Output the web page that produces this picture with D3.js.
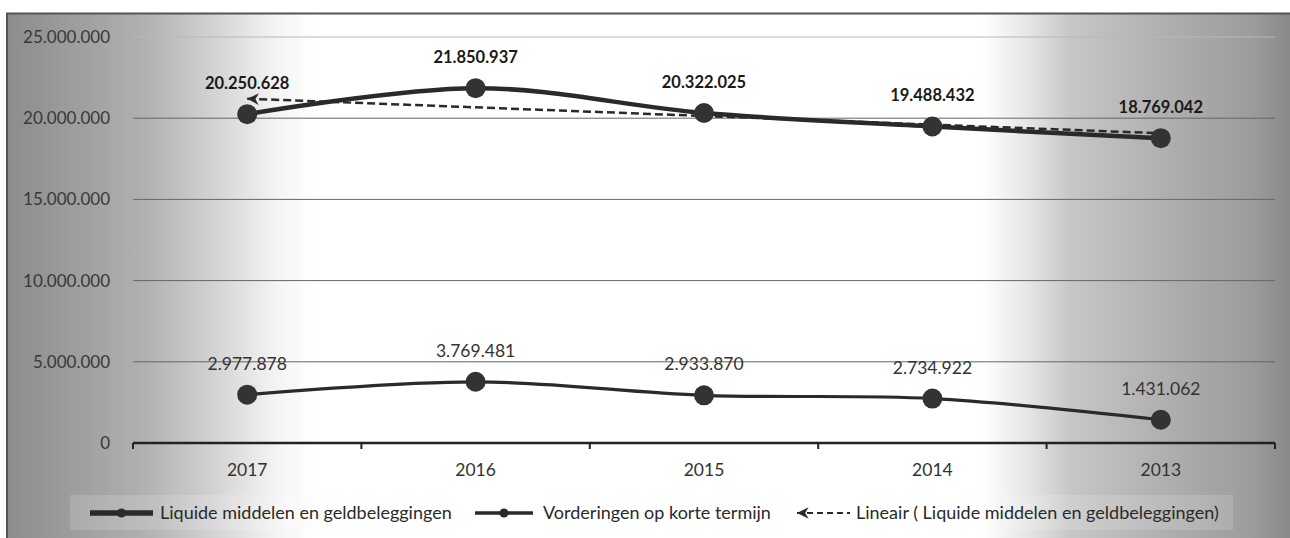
<!DOCTYPE html>
<html>
<head>
<meta charset="utf-8">
<script src="https://cdnjs.cloudflare.com/ajax/libs/d3/7.8.5/d3.min.js"></script>
<style>
  body { margin: 0; background: #fff; }
  svg { display: block; }
</style>
</head>
<body>
<div id="chart"></div>
<script>
// data
var years = ["2017", "2016", "2015", "2014", "2013"];
var liquide = [20250628, 21850937, 20322025, 19488432, 18769042];
var vorderingen = [2977878, 3769481, 2933870, 2734922, 1431062];
var yTicks = [0, 5000000, 10000000, 15000000, 20000000, 25000000];
var seriesNames = ["Liquide middelen en geldbeleggingen", "Vorderingen op korte termijn", "Lineair ( Liquide middelen en geldbeleggingen)"];

var W = 1290, H = 538;
var margin = {top: 37, right: 15, bottom: 95, left: 133},
    width = W - margin.left - margin.right,
    height = H - margin.top - margin.bottom;

var nl = d3.formatLocale({decimal: ",", thousands: ".", grouping: [3], currency: ["€", ""]});
var fmt = nl.format(",d");

var svg = d3.select("#chart").append("svg")
    .attr("width", W)
    .attr("height", H);

// scanned look: grey on the sides, white in the middle
var defs = svg.append("defs");
var grad = defs.append("linearGradient").attr("id", "bg").attr("x1", 0).attr("x2", 1).attr("y1", 0).attr("y2", 0);
[[0, "#8c8c8c"], [0.06, "#a0a0a0"], [0.11, "#b2b2b2"], [0.16, "#d2d2d2"], [0.21, "#f4f4f4"], [0.24, "#ffffff"],
 [0.76, "#ffffff"], [0.795, "#e6e6e6"], [0.83, "#c6c6c6"], [0.9, "#b0b0b0"], [0.97, "#9c9c9c"], [1, "#888888"]]
  .forEach(function(s) { grad.append("stop").attr("offset", s[0]).attr("stop-color", s[1]); });

// arrow drawn pointing along the path; reversed at the start so it points left
defs.append("marker")
    .attr("id", "arrow")
    .attr("viewBox", "0 0 12 12")
    .attr("refX", 11).attr("refY", 6)
    .attr("markerUnits", "userSpaceOnUse")
    .attr("markerWidth", 14).attr("markerHeight", 14)
    .attr("orient", "auto-start-reverse")
  .append("path")
    .attr("d", "M1,1 L11,6 L1,11 L4,6 Z")
    .attr("fill", "#2a2a2a");

svg.append("rect")
    .attr("x", 7).attr("y", 13)
    .attr("width", W - 7).attr("height", H - 13)
    .attr("fill", "url(#bg)");
svg.append("path")
    .attr("d", "M7," + H + " L7,13.5 L" + W + ",13.5")
    .attr("fill", "none")
    .attr("stroke", "#555")
    .attr("stroke-width", 2);

var g = svg.append("g")
    .attr("transform", "translate(" + margin.left + "," + margin.top + ")");

var x = d3.scaleBand().domain(years).range([0, width]);
var y = d3.scaleLinear().domain([0, 25000000]).range([height, 0]);
function cx(d) { return x(d) + x.bandwidth() / 2; }

// gridlines
g.append("g")
  .selectAll("line")
  .data(yTicks.slice(1))
  .enter().append("line")
    .attr("x1", 0).attr("x2", width)
    .attr("y1", function(d) { return y(d); })
    .attr("y2", function(d) { return y(d); })
    .attr("stroke", function(d) { return d == 25000000 ? "#b8b8b8" : "#666"; })
    .attr("stroke-width", 1);

// y labels
g.append("g")
  .selectAll("text")
  .data(yTicks)
  .enter().append("text")
    .attr("x", -23)
    .attr("y", function(d) { return y(d); })
    .attr("dy", "0.35em")
    .attr("text-anchor", "end")
    .style("font-family", "Lato, 'Open Sans', sans-serif")
    .style("font-size", "17px")
    .attr("fill", "#383838")
    .text(function(d) { return fmt(d); });

// x axis
var xAxis = g.append("g")
    .attr("transform", "translate(0," + height + ")");
xAxis.append("line")
    .attr("x1", 0).attr("x2", width)
    .attr("stroke", "#222").attr("stroke-width", 2.5);
xAxis.selectAll(".tick")
    .data(years.concat(["end"]))
    .enter().append("line")
    .attr("x1", function(d, i) { return i * x.bandwidth(); })
    .attr("x2", function(d, i) { return i * x.bandwidth(); })
    .attr("y1", 0).attr("y2", 6)
    .attr("stroke", "#222").attr("stroke-width", 2);
xAxis.selectAll("text")
    .data(years)
    .enter().append("text")
    .attr("x", function(d) { return cx(d); })
    .attr("y", 27)
    .attr("dy", "0.35em")
    .attr("text-anchor", "middle")
    .style("font-family", "Lato, 'Open Sans', sans-serif")
    .style("font-size", "17.5px")
    .attr("fill", "#333")
    .text(function(d) { return d; });

var line = d3.line()
    .x(function(d) { return cx(d.year); })
    .y(function(d) { return y(d.value); })
    .curve(d3.curveCatmullRom.alpha(0.5));

var liqData = years.map(function(d, i) { return {year: d, value: liquide[i]}; });
var vorData = years.map(function(d, i) { return {year: d, value: vorderingen[i]}; });

// linear trendline (Excel "Lineair") on the liquide series
var n = liquide.length, mx = (n + 1) / 2, my = d3.mean(liquide);
var sxy = d3.sum(liquide, function(v, i) { return (i + 1 - mx) * (v - my); });
var sxx = d3.sum(liquide, function(v, i) { return (i + 1 - mx) * (i + 1 - mx); });
var slope = sxy / sxx, icpt = my - slope * mx;
var trend = [{year: years[0], value: icpt + slope * 1}, {year: years[n - 1], value: icpt + slope * n}];

g.append("path")
    .datum(liqData)
    .attr("d", line)
    .attr("fill", "none")
    .attr("stroke", "#2a2a2a")
    .attr("stroke-width", 4.5);

g.append("path")
    .datum(vorData)
    .attr("d", line)
    .attr("fill", "none")
    .attr("stroke", "#2a2a2a")
    .attr("stroke-width", 3.2);

g.append("path")
    .datum(trend)
    .attr("d", d3.line().x(function(d) { return cx(d.year); }).y(function(d) { return y(d.value); }))
    .attr("fill", "none")
    .attr("stroke", "#2a2a2a")
    .attr("stroke-width", 2.5)
    .attr("stroke-dasharray", "8,4")
    .attr("marker-start", "url(#arrow)");

// markers
[liqData, vorData].forEach(function(data) {
  g.append("g").selectAll("circle")
    .data(data)
    .enter().append("circle")
      .attr("cx", function(d) { return cx(d.year); })
      .attr("cy", function(d) { return y(d.value); })
      .attr("r", 10)
      .attr("fill", "#333");
});

// data labels
g.append("g").selectAll("text")
  .data(liqData)
  .enter().append("text")
    .attr("x", function(d) { return cx(d.year); })
    .attr("y", function(d) { return y(d.value) - 31; })
    .attr("dy", "0.35em")
    .attr("text-anchor", "middle")
    .style("font-family", "Lato, 'Open Sans', sans-serif")
    .style("font-size", "16.5px")
    .style("font-weight", "bold")
    .attr("fill", "#1a1a1a")
    .text(function(d) { return fmt(d.value); });

g.append("g").selectAll("text")
  .data(vorData)
  .enter().append("text")
    .attr("x", function(d) { return cx(d.year); })
    .attr("y", function(d) { return y(d.value) - 31; })
    .attr("dy", "0.35em")
    .attr("text-anchor", "middle")
    .style("font-family", "Lato, 'Open Sans', sans-serif")
    .style("font-size", "17.5px")
    .attr("fill", "#333")
    .text(function(d) { return fmt(d.value); });

// legend
var legend = svg.append("g").attr("transform", "translate(0,513)");
legend.append("rect")
    .attr("x", 70).attr("y", -18)
    .attr("width", 1163).attr("height", 35)
    .attr("fill", "#fff").attr("opacity", 0.15);

var legItems = [
  {x: 90, w: 63, sw: 5.5, type: "line", tx: 160},
  {x: 475, w: 58, sw: 3.5, type: "line", tx: 543},
  {x: 797, w: 53, sw: 2, type: "trend", tx: 856}
];
legItems.forEach(function(it, i) {
  var li = legend.append("g");
  if (it.type == "line") {
    li.append("line")
      .attr("x1", it.x).attr("x2", it.x + it.w)
      .attr("stroke", "#2a2a2a").attr("stroke-width", it.sw);
    li.append("circle")
      .attr("cx", it.x + it.w / 2).attr("r", 4.5).attr("fill", "#2a2a2a");
  } else {
    li.append("line")
      .attr("x1", it.x).attr("x2", it.x + it.w)
      .attr("stroke", "#2a2a2a").attr("stroke-width", it.sw)
      .attr("stroke-dasharray", "6,4")
      .attr("marker-start", "url(#arrow)");
  }
  li.append("text")
    .attr("x", it.tx)
    .attr("dy", "0.35em")
    .style("font-family", "Lato, 'Open Sans', sans-serif")
    .style("font-size", "18px")
    .attr("fill", "#2a2a2a")
    .text(seriesNames[i]);
});
</script>
</body>
</html>
